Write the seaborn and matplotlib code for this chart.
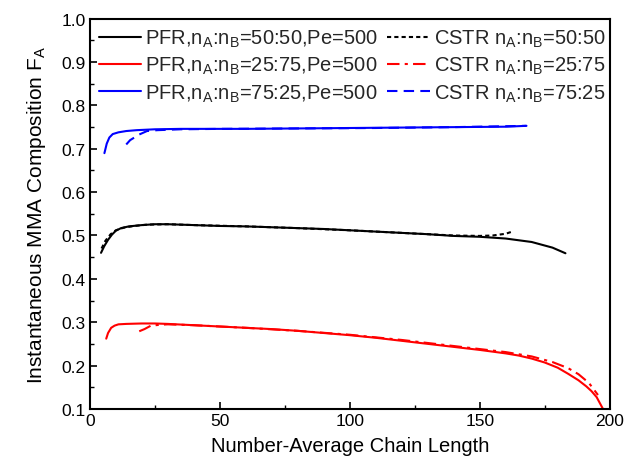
import numpy as np
import pandas as pd
import matplotlib
matplotlib.use("Agg")
import matplotlib.pyplot as plt
import seaborn as sns

# ---- data ----
pfr_5050_x = [4.3, 5.5, 7, 8.5, 10, 12, 15, 20, 25, 30, 40, 50, 60, 70, 80, 90, 100, 110, 120, 130, 140, 150, 160, 170, 178, 183]
pfr_5050_y = [0.460, 0.475, 0.490, 0.502, 0.511, 0.517, 0.521, 0.524, 0.526, 0.526, 0.524, 0.522, 0.521, 0.519, 0.517, 0.515, 0.512, 0.509, 0.506, 0.503, 0.499, 0.497, 0.493, 0.485, 0.472, 0.459]

cstr_5050_x = [4.5, 6, 8, 10, 13, 17, 22, 30, 40, 60, 80, 100, 120, 140, 150, 155, 160, 162]
cstr_5050_y = [0.470, 0.488, 0.503, 0.512, 0.518, 0.522, 0.525, 0.526, 0.524, 0.521, 0.517, 0.512, 0.506, 0.500, 0.499, 0.500, 0.504, 0.508]

pfr_2575_x = [6.3, 7, 8.2, 9.5, 11, 14, 20, 25, 30, 40, 50, 60, 70, 80, 90, 100, 110, 120, 130, 140, 150, 160, 165, 170, 175, 180, 184, 188, 191, 193, 195, 196.7, 197.6]
pfr_2575_y = [0.262, 0.275, 0.287, 0.292, 0.295, 0.296, 0.297, 0.297, 0.296, 0.293, 0.290, 0.287, 0.284, 0.280, 0.275, 0.270, 0.264, 0.257, 0.250, 0.243, 0.236, 0.228, 0.223, 0.216, 0.207, 0.195, 0.181, 0.166, 0.152, 0.141, 0.127, 0.108, 0.098]

cstr_2575_x = [19, 21, 23.5, 27, 30, 40, 60, 80, 100, 120, 140, 160, 170, 178, 184, 188, 192, 195.5]
cstr_2575_y = [0.279, 0.284, 0.292, 0.294, 0.295, 0.293, 0.287, 0.280, 0.271, 0.259, 0.245, 0.231, 0.221, 0.208, 0.194, 0.180, 0.160, 0.132]

pfr_7525_x = [5.6, 6.5, 7.5, 8.8, 11, 14, 18, 25, 35, 45, 60, 80, 100, 120, 140, 160, 168]
pfr_7525_y = [0.690, 0.712, 0.726, 0.734, 0.738, 0.741, 0.743, 0.745, 0.746, 0.746, 0.746, 0.747, 0.748, 0.749, 0.750, 0.751, 0.753]

cstr_7525_x = [14, 15.5, 19, 22, 26, 35, 50, 80, 110, 140, 168]
cstr_7525_y = [0.710, 0.720, 0.733, 0.741, 0.743, 0.745, 0.746, 0.747, 0.748, 0.750, 0.753]

labels = [
    r"PFR,n$_{\mathrm{A}}$:n$_{\mathrm{B}}$=50:50,Pe=500",
    r"PFR,n$_{\mathrm{A}}$:n$_{\mathrm{B}}$=25:75,Pe=500",
    r"PFR,n$_{\mathrm{A}}$:n$_{\mathrm{B}}$=75:25,Pe=500",
    r"CSTR n$_{\mathrm{A}}$:n$_{\mathrm{B}}$=50:50",
    r"CSTR n$_{\mathrm{A}}$:n$_{\mathrm{B}}$=25:75",
    r"CSTR n$_{\mathrm{A}}$:n$_{\mathrm{B}}$=75:25",
]
xticks = [0, 50, 100, 150, 200]
yticks = [0.1, 0.2, 0.3, 0.4, 0.5, 0.6, 0.7, 0.8, 0.9, 1.0]

series = [
    (pfr_5050_x, pfr_5050_y, labels[0], "black", None),
    (pfr_2575_x, pfr_2575_y, labels[1], "#ff0000", None),
    (pfr_7525_x, pfr_7525_y, labels[2], "#0000ff", None),
    (cstr_5050_x, cstr_5050_y, labels[3], "black", (2, 1.5)),
    (cstr_2575_x, cstr_2575_y, labels[4], "#ff0000", (6, 2.5, 1.5, 2.5)),
    (cstr_7525_x, cstr_7525_y, labels[5], "#0000ff", (5, 3)),
]

sns.set_theme(style="white")
plt.rcParams["font.family"] = ["Liberation Sans", "DejaVu Sans"]
plt.rcParams["mathtext.fontset"] = "custom"
plt.rcParams["mathtext.rm"] = "Liberation Sans"
plt.rcParams["mathtext.it"] = "Liberation Sans:italic"

fig = plt.figure(figsize=(6.24, 4.60), dpi=100)
ax = fig.add_axes([0.144, 0.109, 0.833, 0.848])

for xs, ys, lab, col, dash in series:
    df = pd.DataFrame({"x": xs, "y": ys})
    sns.lineplot(data=df, x="x", y="y", ax=ax, color=col, lw=1.5,
                 label=lab, sort=False, estimator=None)
    if dash is not None:
        ax.get_lines()[-1].set_dashes(dash)

ax.set_xlim(0, 200)
ax.set_ylim(0.1, 1.0)
ax.set_xticks(xticks)
ax.set_yticks(yticks)
ax.set_yticklabels([f"{v:.1f}" for v in yticks])
ax.set_xticks([25, 75, 125, 175], minor=True)
ax.set_yticks(np.arange(0.15, 1.0, 0.1), minor=True)
ax.tick_params(which="both", direction="in", colors="black", labelsize=12.5,
               top=False, right=False, left=True, bottom=True)
ax.tick_params(which="major", length=5, width=1.2, pad=3)
ax.tick_params(which="minor", length=3, width=1.0)
for sp in ax.spines.values():
    sp.set_color("black")
    sp.set_linewidth(1.5)

ax.set_xlabel("Number-Average Chain Length", fontsize=14.5, color="black", labelpad=6)
ax.set_ylabel(r"Instantaneous MMA Composition F$_{\mathrm{A}}$", fontsize=15, color="black", labelpad=10)

ax.legend(ncol=2, loc="upper left", frameon=False, fontsize=14.5,
          handlelength=2.1, handletextpad=0.2, columnspacing=0.45,
          labelspacing=0.3, borderaxespad=0.15, borderpad=0.3,
          bbox_to_anchor=(0.0, 1.0))

fig.savefig("out.png", dpi=100)
